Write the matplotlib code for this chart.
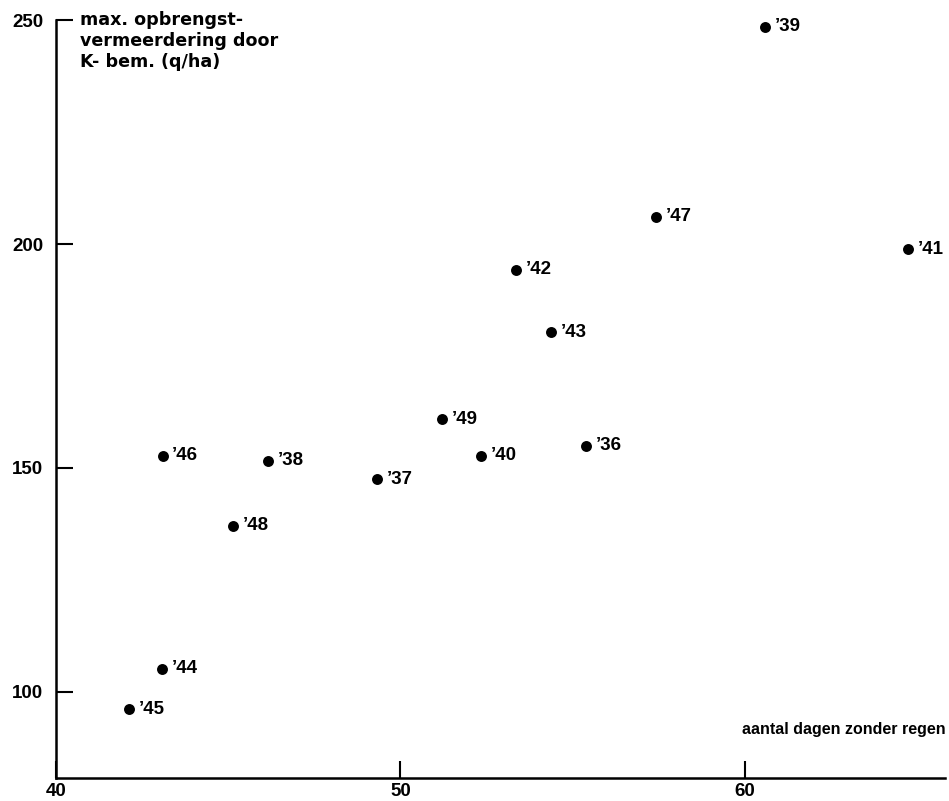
import matplotlib
matplotlib.use("Agg")
import matplotlib.pyplot as plt

# Data
years = ["’36", "’37", "’38", "’39", "’40", "’41", "’42", "’43", "’44", "’45", "’46", "’47", "’48", "’49"]
dry_days = [55.39, 49.32, 46.16, 60.58, 52.34, 64.74, 53.36, 54.36, 43.09, 42.12, 43.10, 57.42, 45.15, 51.22]
yield_gain = [155.0, 147.5, 151.6, 248.5, 152.7, 198.8, 194.2, 180.3, 105.2, 96.1, 152.7, 206.1, 137.1, 160.9]
xticks = [40, 50, 60]
yticks = [100, 150, 200, 250]

plt.rcParams['font.family'] = ['Liberation Sans', 'DejaVu Sans']

fig = plt.figure(figsize=(9.49, 8.01), dpi=100)
ax = fig.add_axes([0.0587, 0.0293, 0.937, 0.9457])

ax.scatter(dry_days, yield_gain, s=62, color='black', zorder=3, linewidths=0)
for x, y, lab in zip(dry_days, yield_gain, years):
    ax.annotate(lab, (x, y), xytext=(7, 0), textcoords='offset points',
                ha='left', va='center', fontsize=13.5, fontweight='bold')

ax.set_xlim(40, 65.8)
ax.set_ylim(80.9, 250)
ax.set_xticks(xticks)
ax.set_yticks(yticks)
ax.set_xticklabels([str(t) for t in xticks], fontsize=13.5, fontweight='bold')
ax.set_yticklabels([str(t) for t in yticks], fontsize=13.5, fontweight='bold')

for s in ['top', 'right']:
    ax.spines[s].set_visible(False)
for s in ['left', 'bottom']:
    ax.spines[s].set_linewidth(1.8)

ax.tick_params(axis='y', direction='in', length=12, width=1.5, pad=9)
ax.tick_params(axis='x', direction='in', length=12, width=1.5, pad=4)

ax.text(0.0845, 0.986, "max. opbrengst-\nvermeerdering door\nK- bem. (q/ha)",
        transform=fig.transFigure, ha='left', va='top', fontsize=12.6,
        fontweight='bold', family=['DejaVu Sans'], linespacing=1.2)
ax.text(0.996, 0.089, "aantal dagen zonder regen", transform=fig.transFigure,
        ha='right', va='center', fontsize=11.5, fontweight='bold')

fig.savefig("out.png", dpi=100)
